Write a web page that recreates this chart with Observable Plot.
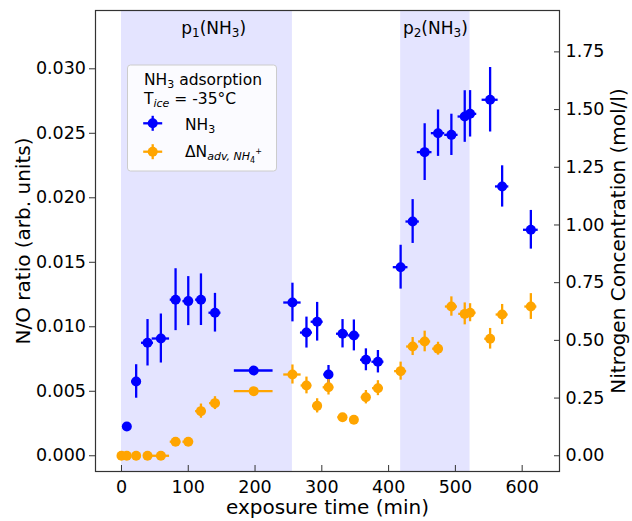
<!DOCTYPE html>
<html>
<head>
<meta charset="utf-8">
<script src="https://cdn.jsdelivr.net/npm/d3@7"></script>
<script src="https://cdn.jsdelivr.net/npm/@observablehq/plot@0.6"></script>
<style>
  html, body { margin: 0; padding: 0; background: white; }
  svg { display: block; }
</style>
</head>
<body>
<div id="chart"></div>
<script>
// ---------- data ----------
const blueTime    = [8, 22, 39, 59, 81, 100, 119, 140, 198, 256, 277, 293, 310, 331, 348, 366, 384, 418, 436, 454, 474, 494, 514, 522, 552, 570, 613];
const blueValue   = [0.00227, 0.00576, 0.00876, 0.00909, 0.0121, 0.01199, 0.0121, 0.01109, 0.00661, 0.01188, 0.00955, 0.01039, 0.0063, 0.00946, 0.00933, 0.00744, 0.00729, 0.01462, 0.01816, 0.02354, 0.02501, 0.02488, 0.0263, 0.02651, 0.0276, 0.02088, 0.01752];
const blueErr     = [0.0003, 0.0013, 0.0018, 0.0019, 0.0024, 0.0019, 0.002, 0.0015, 0.0003, 0.0015, 0.0012, 0.0015, 0.0007, 0.0011, 0.0012, 0.00085, 0.00087, 0.0017, 0.0017, 0.0022, 0.0018, 0.0016, 0.002, 0.0018, 0.0025, 0.0016, 0.0015];
const blueTimeErr = [0, 7, 9, 13, 8, 8, 8, 9, 29, 13, 9, 9, 7, 9, 9, 8, 9, 11, 10, 11, 10, 10, 10, 10, 12, 10, 11];

const orangeTime    = [0, 8, 22, 39, 59, 81, 100, 119, 140, 198, 256, 277, 293, 310, 331, 348, 366, 384, 418, 436, 454, 474, 494, 514, 522, 552, 570, 613];
const orangeValue   = [0, 0, 0, 0, 0, 0.00109, 0.00109, 0.00346, 0.00408, 0.00501, 0.0063, 0.00545, 0.00387, 0.00531, 0.00299, 0.00279, 0.00454, 0.00524, 0.00656, 0.00847, 0.00886, 0.0083, 0.01157, 0.0110, 0.01109, 0.00907, 0.01095, 0.01157];
const orangeErr     = [0, 0, 0, 0, 0, 0.0002, 0.0002, 0.00055, 0.0005, 0.0002, 0.00074, 0.00065, 0.00055, 0.0006, 0.0002, 0.0002, 0.00052, 0.00058, 0.0007, 0.0007, 0.0008, 0.0005, 0.00075, 0.00085, 0.0007, 0.0008, 0.00078, 0.001];
const orangeTimeErr = [0, 0, 0, 0, 13, 8, 8, 8, 8, 29, 13, 8, 7, 8, 7, 6, 7, 8, 9, 9, 9, 8, 9, 9, 9, 8, 9, 9];

const spanStart  = [0, 418];
const spanEnd    = [256, 522];
const spanLabelX = [138, 470];
const spanLabelIndex = ["1", "2"];

const xTicks     = [0, 100, 200, 300, 400, 500, 600];
const yTicks     = [0, 0.005, 0.010, 0.015, 0.020, 0.025, 0.030];
const rightTicks = [0, 0.25, 0.5, 0.75, 1.0, 1.25, 1.5, 1.75];
const rightFactor = 55.89; // right-axis units per left-axis unit

const xLabel = "exposure time (min)";
const yLabel = "N/O ratio (arb. units)";
const rightLabel = "Nitrogen Concentration (mol/l)";

// ---------- tables ----------
const blue = blueTime.map((t, i) => ({t, v: blueValue[i], e: blueErr[i], xe: blueTimeErr[i]}));
const orange = orangeTime.map((t, i) => ({t, v: orangeValue[i], e: orangeErr[i], xe: orangeTimeErr[i]}));
const spans = spanStart.map((s, i) => ({s, e: spanEnd[i], lx: spanLabelX[i], idx: spanLabelIndex[i]}));

const BLUE = "#0000ff", ORANGE = "#ffa500";
const ew = 2.3;

function seriesMarks(data, color) {
  return [
    Plot.ruleX(data.filter(d => d.e > 0), {x: "t", y1: d => d.v - d.e, y2: d => d.v + d.e, stroke: color, strokeWidth: ew}),
    Plot.ruleY(data.filter(d => d.xe > 0), {y: "v", x1: d => d.t - d.xe, x2: d => d.t + d.xe, stroke: color, strokeWidth: ew}),
    Plot.dot(data, {x: "t", y: "v", r: 5, fill: color, stroke: "none"})
  ];
}

const chart = Plot.plot({
  width: 632,
  height: 521,
  marginLeft: 95,
  marginRight: 73,
  marginTop: 10,
  marginBottom: 50,
  x: {domain: [-38.9, 655.9]},
  y: {domain: [-0.00122, 0.03452]},
  style: {fontFamily: "DejaVu Sans", fontSize: "17.5px", color: "#000", background: "white"},
  marks: [
    Plot.rect(spans, {x1: "s", x2: "e", fill: BLUE, fillOpacity: 0.105}),
    Plot.text(spans, {x: "lx", text: d => "p" + d.idx + "(NH3)", frameAnchor: "top", dy: 18, lineAnchor: "middle", textAnchor: "middle", fontSize: 17, fill: "#000", className: "spanlabel"}),
    ...seriesMarks(blue, BLUE),
    ...seriesMarks(orange, ORANGE),
    Plot.frame({stroke: "#333", strokeWidth: 1.2}),
    Plot.axisX(xTicks, {tickSize: 6, insetBottom: 6, tickPadding: 8.6, tickFormat: d => String(d), label: null, stroke: "#333"}),
    Plot.axisY(yTicks, {tickSize: 6, tickPadding: 3.5, tickFormat: d => d.toFixed(3), label: null, stroke: "#333"}),
    Plot.axisY(rightTicks.map(r => r / rightFactor), {anchor: "right", tickSize: 6, insetRight: 6, tickPadding: 6, tickFormat: d => (d * rightFactor).toFixed(2), label: null, stroke: "#333"}),
    Plot.text([xLabel], {text: d => d, frameAnchor: "bottom", dy: 36, lineAnchor: "middle", textAnchor: "middle", fontSize: 20}),
    Plot.text([yLabel], {text: d => d, frameAnchor: "left", dx: -72, rotate: -90, lineAnchor: "middle", textAnchor: "middle", fontSize: 20}),
    Plot.text([rightLabel], {text: d => d, frameAnchor: "right", dx: 59, rotate: -90, lineAnchor: "middle", textAnchor: "middle", fontSize: 20})
  ]
});

document.getElementById("chart").appendChild(chart);

// ---------- subscript styling for span labels ----------
d3.select(chart).selectAll(".spanlabel text").each(function() {
  const el = d3.select(this);
  const s = el.text();            // e.g. "p1(NH3)"
  const idx = s.charAt(1);
  el.text(null);
  el.append("tspan").text("p");
  el.append("tspan").attr("font-size", 12).attr("dy", 3.5).text(idx);
  el.append("tspan").attr("dy", -3.5).text("(NH");
  el.append("tspan").attr("font-size", 12).attr("dy", 3.5).text("3");
  el.append("tspan").attr("dy", -3.5).text(")");
});

// ---------- legend (inside plot area) ----------
const svg = d3.select(chart);
const g = svg.append("g").attr("font-family", "DejaVu Sans").attr("fill", "#000").attr("text-anchor", "start");
g.append("rect")
  .attr("x", 127.5).attr("y", 65).attr("width", 149).attr("height", 106)
  .attr("rx", 3).attr("fill", "white").attr("fill-opacity", 0.85)
  .attr("stroke", "#cccccc").attr("stroke-width", 1);

const fs = 15.5, sub = 11;
function line(y, x, parts) {
  const t = g.append("text").attr("x", x).attr("y", y).attr("font-size", fs).attr("text-anchor", "start");
  parts.forEach(p => {
    const ts = t.append("tspan").text(p.s);
    if (p.size) ts.attr("font-size", p.size);
    if (p.dy) ts.attr("dy", p.dy);
    if (p.italic) ts.attr("font-style", "italic");
  });
}
line(84.5, 144, [{s: "NH"}, {s: "3", size: sub, dy: 3}, {s: " adsorption", dy: -3}]);
line(103.5, 144, [{s: "T"}, {s: "ice", size: sub, dy: 3, italic: true}, {s: " = -35°C", dy: -3}]);
line(130, 185, [{s: "NH"}, {s: "3", size: sub, dy: 3}]);
line(156.5, 185, [{s: "ΔN"}, {s: "adv, NH", size: sub, dy: 3, italic: true}, {s: "4", size: 8, dy: 3}, {s: "+", size: 8, dy: -9, dx: -4.5}]);

function legendMarker(cx, cy, color) {
  g.append("line").attr("x1", cx - 9.5).attr("x2", cx + 9.5).attr("y1", cy).attr("y2", cy).attr("stroke", color).attr("stroke-width", ew);
  g.append("line").attr("x1", cx).attr("x2", cx).attr("y1", cy - 7.5).attr("y2", cy + 7.5).attr("stroke", color).attr("stroke-width", ew);
  g.append("circle").attr("cx", cx).attr("cy", cy).attr("r", 5).attr("fill", color);
}
legendMarker(152.7, 123.3, BLUE);
legendMarker(152.7, 151.7, ORANGE);
</script>
</body>
</html>
